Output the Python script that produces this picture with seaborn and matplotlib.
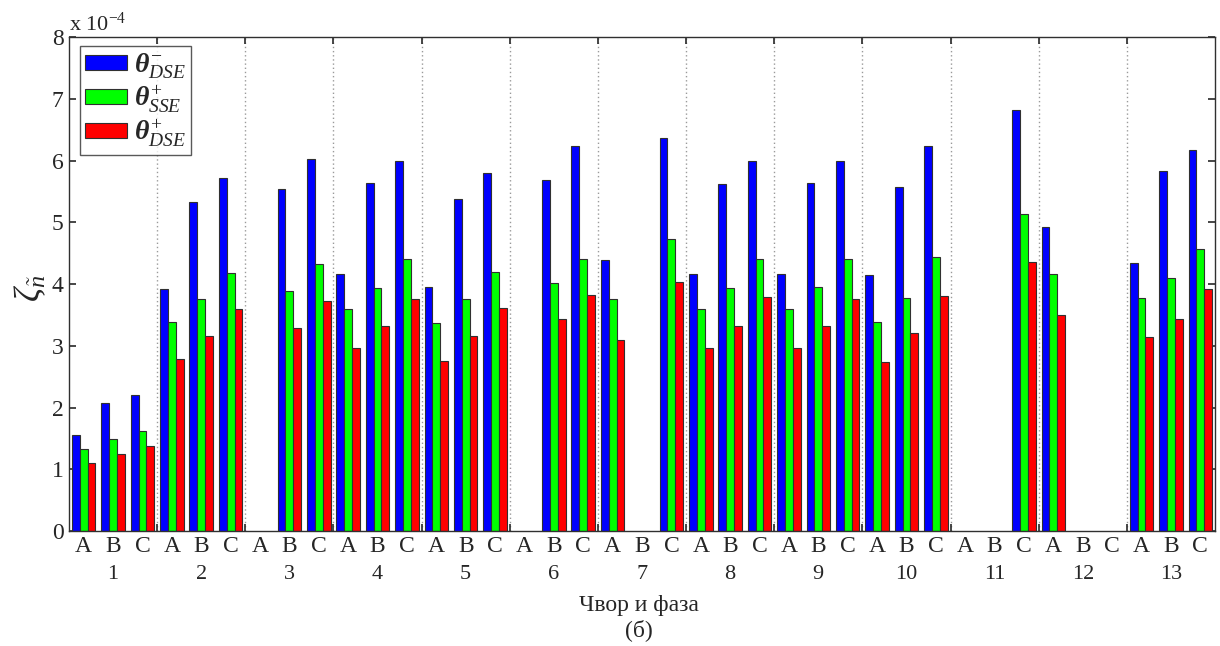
import numpy as np
import pandas as pd
import matplotlib
matplotlib.use("Agg")
import matplotlib.pyplot as plt
import seaborn as sns
from matplotlib.patches import Patch

nodes = [str(i) for i in range(1, 14)]
phases = ["A", "B", "C"]
series_names = [r"$\theta^{-}_{\mathsf{DSE}}$", r"$\theta^{+}_{\mathsf{SSE}}$", r"$\theta^{+}_{\mathsf{DSE}}$"]
colors = ["#0000ff", "#00ff00", "#ff0000"]

nan = np.nan
# values in units of 1e-4, order: node1 A,B,C, node2 A,B,C, ...
theta_dse_minus = [1.55, 2.07, 2.21, 3.92, 5.33, 5.72, nan, 5.54, 6.03,
                   4.17, 5.63, 6.00, 3.95, 5.37, 5.79, nan, 5.68, 6.24,
                   4.39, nan, 6.36, 4.17, 5.62, 6.00, 4.17, 5.63, 5.99,
                   4.15, 5.57, 6.23, nan, nan, 6.82, 4.92, nan, nan,
                   4.34, 5.83, 6.17]
theta_sse_plus = [1.33, 1.49, 1.62, 3.39, 3.75, 4.18, nan, 3.88, 4.32,
                  3.60, 3.94, 4.40, 3.37, 3.75, 4.20, nan, 4.01, 4.41,
                  3.76, nan, 4.73, 3.60, 3.94, 4.41, 3.60, 3.95, 4.40,
                  3.38, 3.78, 4.44, nan, nan, 5.13, 4.16, nan, nan,
                  3.77, 4.09, 4.56]
theta_dse_plus = [1.10, 1.24, 1.38, 2.78, 3.15, 3.59, nan, 3.28, 3.73,
                  2.97, 3.32, 3.76, 2.76, 3.15, 3.61, nan, 3.43, 3.82,
                  3.10, nan, 4.03, 2.97, 3.32, 3.79, 2.97, 3.32, 3.76,
                  2.74, 3.20, 3.80, nan, nan, 4.35, 3.49, nan, nan,
                  3.14, 3.44, 3.92]

positions = [f"{n}{p}" for n in nodes for p in phases]
rows = []
for name, vals in zip(series_names, [theta_dse_minus, theta_sse_plus, theta_dse_plus]):
    for pos, v in zip(positions, vals):
        rows.append({"pos": pos, "val": v, "series": name})
df = pd.DataFrame(rows).dropna()

sns.set_theme(style="white")
plt.rcParams["font.family"] = ["Liberation Serif", "DejaVu Serif"]
plt.rcParams["mathtext.fontset"] = "custom"
plt.rcParams["mathtext.rm"] = "Liberation Serif"
plt.rcParams["mathtext.it"] = "Liberation Serif:italic:bold"
plt.rcParams["mathtext.bf"] = "Liberation Serif:bold"
plt.rcParams["mathtext.sf"] = "Liberation Serif:italic"

fig = plt.figure(figsize=(12.2, 6.46), dpi=100)
ax = fig.add_axes([69 / 1220, 1 - 531 / 646, (1215 - 69) / 1220, (531 - 37) / 646])

sns.barplot(data=df, x="pos", y="val", hue="series", order=positions,
            hue_order=series_names, palette=colors, saturation=1, width=0.8,
            edgecolor="#303030", linewidth=0.8, errorbar=None, ax=ax, legend=False)

ax.set_xlim(-0.5, len(positions) - 0.5)
ax.set_ylim(0, 8)
ax.set_yticks(range(0, 9))
ax.set_yticklabels([str(i) for i in range(0, 9)], fontsize=17)

bounds = [3 * k - 0.5 for k in range(1, 13)]
ax.set_xticks(bounds)
ax.set_xticklabels([])
ax.set_xlabel("")
ax.set_ylabel("")
for b in bounds:
    ax.axvline(b, color="#9a9a9a", linestyle=(0, (1, 2)), linewidth=1, zorder=0)

ax.tick_params(axis="x", direction="in", top=True, bottom=True, length=5, color="#303030")
ax.tick_params(axis="y", direction="in", left=True, right=True, length=5, color="#303030", pad=4)
for s in ax.spines.values():
    s.set_color("#303030")
    s.set_linewidth(1)

xt = ax.get_xaxis_transform()
for i, pos in enumerate(positions):
    ax.text(i, -0.031, pos[-1], transform=xt, ha="center", va="center", fontsize=17)
for k, n in enumerate(nodes):
    ax.text(3 * k + 1, -0.089, n, transform=xt, ha="center", va="center", fontsize=16)

ax.text(0.0, 1.003, r"x 10$^{\mathrm{-4}}$", transform=ax.transAxes, ha="left", va="bottom", fontsize=16)

fig.text(639 / 1220, 1 - 606 / 646, "Чвор и фаза", ha="center", va="center", fontsize=17)
fig.text(639 / 1220, 1 - 630 / 646, "(б)", ha="center", va="center", fontsize=17)
fig.text(31 / 1220, 1 - 288 / 646, r"$\mathsf{\zeta}_{\mathsf{\tilde{n}}}$", ha="center", va="center",
         rotation=90, fontsize=25)

handles = [Patch(facecolor=c, edgecolor="#303030", linewidth=0.8) for c in colors]
leg = ax.legend(handles, series_names, loc="upper left", bbox_to_anchor=(0.0095, 0.982),
                fontsize=20, frameon=True, fancybox=False, edgecolor="#303030",
                handlelength=1.5, handleheight=0.47, labelspacing=0.1, borderpad=0.2,
                handletextpad=0.25, borderaxespad=0)
leg.get_frame().set_linewidth(1)

fig.savefig("out.png", dpi=100, facecolor="white")
